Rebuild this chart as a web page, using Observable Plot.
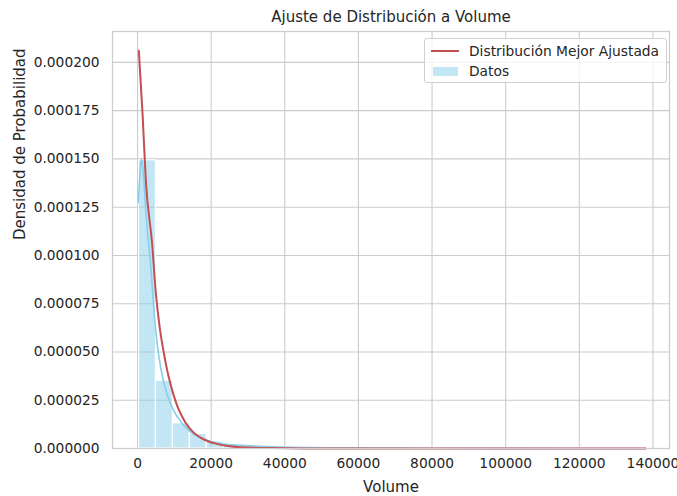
<!DOCTYPE html>
<html>
<head>
<meta charset="utf-8">
<script src="https://cdn.jsdelivr.net/npm/d3@7"></script>
<script src="https://cdn.jsdelivr.net/npm/@observablehq/plot@0.6"></script>
<style>
  body { margin: 0; background: #fff; }
  #wrap { position: relative; width: 677px; height: 496px; font-family: "DejaVu Sans", sans-serif; color: #262626; }
  #legend { position: absolute; left: 424px; top: 38px; width: 243px; height: 45px; border: 1px solid #d0d0d0; border-radius: 3px; background: rgba(255,255,255,0.8); box-sizing: border-box; }
  #legend .sw-line { position: absolute; left: 6px; top: 11px; width: 28px; height: 2px; background: #c44e52; }
  #legend .sw-patch { position: absolute; left: 8px; top: 27.5px; width: 25px; height: 9px; background: rgba(135,206,235,0.5); }
  #legend .lbl { position: absolute; left: 44px; font-size: 13.8px; line-height: 16px; white-space: nowrap; color: #262626; }
</style>
</head>
<body>
<div id="wrap"><div id="legend"></div></div>
<script>
// ---- data ----
const title = "Ajuste de Distribución a Volume";
const xLabel = "Volume";
const yLabel = "Densidad de Probabilidad";
const legendLabels = ["Distribución Mejor Ajustada", "Datos"];

const binMin = 400;
const binMax = 138480;
const binCount = 30;
const binDensity = [
  1.493e-4, 3.51e-5, 1.31e-5, 7.6e-6, 3.6e-6, 1.6e-6, 9e-7, 5e-7, 3e-7, 2e-7,
  2e-7, 1e-7, 1e-7, 1e-7, 5e-8, 5e-8, 5e-8, 3e-8, 3e-8, 3e-8,
  2e-8, 2e-8, 2e-8, 1e-8, 1e-8, 1e-8, 1e-8, 1e-8, 0, 1e-8
];

const kdeX = [190, 540, 814, 1085, 1492, 2441, 3530, 3964, 4426, 5050, 5783, 6679, 8037, 9856, 12110, 14825, 17356, 20068, 22780, 28203, 39050, 60000, 80000, 100000, 120000, 138000];
const kdeY = [1.275e-4, 1.387e-4, 1.465e-4, 1.50e-4, 1.439e-4, 1.18e-4, 9.6e-5, 8.5e-5, 7.2e-5, 5.9e-5, 4.8e-5, 3.8e-5, 2.8e-5, 1.95e-5, 1.3e-5, 8e-6, 5.5e-6, 3.6e-6, 2.4e-6, 1.6e-6, 8e-7, 3e-7, 1e-7, 5e-8, 2e-8, 1e-8];

const fitX = [353, 1390, 2254, 3964, 5000, 6000, 7000, 8000, 9000, 10000, 11000, 12000, 13000, 14000, 15500, 17000, 19000, 21500, 25000, 30000, 37000, 45000, 60000, 80000, 100000, 120000, 138000];
const fitY = [2.06e-4, 1.724e-4, 1.388e-4, 1.06e-4, 8.0e-5, 6.3e-5, 5.1e-5, 4.1e-5, 3.3e-5, 2.65e-5, 2.1e-5, 1.7e-5, 1.35e-5, 1.08e-5, 7.8e-6, 5.8e-6, 3.9e-6, 2.4e-6, 1.2e-6, 5e-7, 2e-7, 5e-8, 0, 0, 0, 0, 0];

const xTicks = [0, 20000, 40000, 60000, 80000, 100000, 120000, 140000];
const yTicks = [0, 0.000025, 0.00005, 0.000075, 0.0001, 0.000125, 0.00015, 0.000175, 0.0002];

// ---- build tables ----
const binW = (binMax - binMin) / binCount;
const bins = binDensity.map((d, i) => ({x1: binMin + i * binW, x2: binMin + (i + 1) * binW, y: d}));
const kde = kdeX.map((x, i) => ({x, y: kdeY[i]}));
const fit = fitX.map((x, i) => ({x, y: fitY[i]}));

const font = "DejaVu Sans, sans-serif";
const grid = "#cccccc";

const chart = Plot.plot({
  width: 677,
  height: 496,
  marginLeft: 112,
  marginRight: 8,
  marginTop: 31,
  marginBottom: 48,
  style: {fontFamily: font, color: "#262626", background: "#ffffff", overflow: "visible"},
  x: {domain: [-6800, 144500]},
  y: {domain: [0, 0.000216]},
  marks: [
    Plot.gridX(xTicks, {stroke: grid, strokeOpacity: 1, strokeWidth: 1.1}),
    Plot.gridY(yTicks, {stroke: grid, strokeOpacity: 1, strokeWidth: 1.1}),
    Plot.rect(bins, {x1: "x1", x2: "x2", y1: 0, y2: "y", fill: "#87ceeb", fillOpacity: 0.5, stroke: "#ffffff", strokeWidth: 1.2}),
    Plot.line(kde, {x: "x", y: "y", stroke: "#87ceeb", strokeWidth: 1.6, curve: "monotone-x"}),
    Plot.line(fit, {x: "x", y: "y", stroke: "#c44e52", strokeWidth: 2, curve: "monotone-x"}),
    Plot.frame({stroke: grid, strokeWidth: 1.25}),
    Plot.axisX(xTicks, {tickSize: 0, tickPadding: 10, tickFormat: d3.format("d"), fontSize: 13.8, label: null}),
    Plot.axisY(yTicks, {tickSize: 0, tickPadding: 13, tickFormat: d => d.toFixed(6), fontSize: 13.8, label: null}),
    Plot.text([title], {frameAnchor: "top", dy: -14, lineAnchor: "middle", fontSize: 15, fill: "#262626"}),
    Plot.text([xLabel], {frameAnchor: "bottom", dy: 39, lineAnchor: "middle", fontSize: 15, fill: "#262626"}),
    Plot.text([yLabel], {frameAnchor: "left", dx: -92, rotate: -90, lineAnchor: "middle", fontSize: 15, fill: "#262626"})
  ]
});
document.getElementById("wrap").prepend(chart);

const leg = document.getElementById("legend");
leg.innerHTML =
  '<div class="sw-line"></div>' +
  '<div class="lbl" style="top:4px">' + legendLabels[0] + '</div>' +
  '<div class="sw-patch"></div>' +
  '<div class="lbl" style="top:24px">' + legendLabels[1] + '</div>';
</script>
</body>
</html>
